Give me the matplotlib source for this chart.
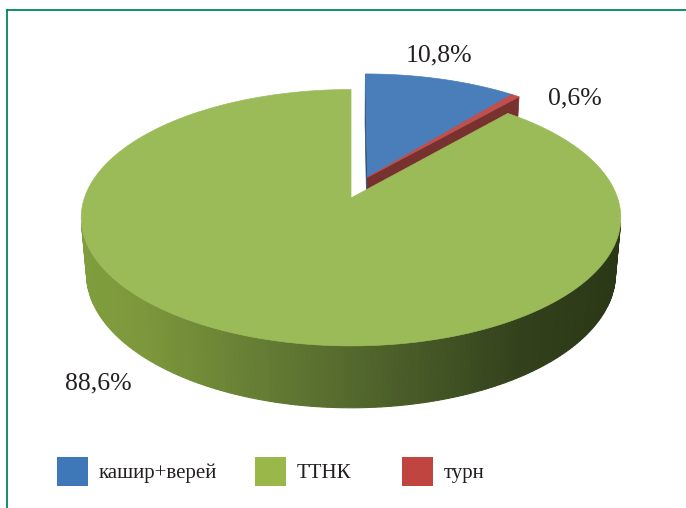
import numpy as np
import matplotlib.pyplot as plt
from matplotlib.patches import Polygon, Rectangle
from matplotlib.lines import Line2D

# данные
labels = ['кашир+верей', 'ТТНК', 'турн']
values = [10.8, 88.6, 0.6]
colors = ['#4a7ebb', '#9bbb59', '#c0504d']
# порядок секторов по часовой стрелке от 12 часов
pie_order = [0, 2, 1]
explode = [True, False, True]
value_labels = ['10,8%', '88,6%', '0,6%']

# параметры проекции (пиксели)
S = 1530.0
D = 5.74
ELEV = np.radians(28)
H = 0.24
CX, CY = 351, 198
EXPL = 0.181
sn, cs = np.sin(ELEV), np.cos(ELEV)
cam = np.array([0.0, -D * cs, D * sn])


def proj(u, v, z):
    den = D + v * cs - z * sn
    return CX + S * u / den, CY - S * (v * sn + z * cs) / den


def mix(c, k):
    c = np.array(plt.matplotlib.colors.to_rgb(c))
    return tuple(np.clip(c * k, 0, 1))


# градиент боковой стенки по экранной x
wall_x = [80, 140, 290, 423, 523, 625]
wall_rgb = np.array([[128, 158, 62], [125, 152, 60], [95, 118, 50],
                     [70, 88, 38], [50, 64, 27], [42, 55, 22]]) / 255.0

fig = plt.figure(figsize=(6.86, 5.08), dpi=100)
ax = fig.add_axes([0, 0, 1, 1])
ax.set_xlim(0, 686)
ax.set_ylim(508, 0)
ax.axis('off')

# углы секторов
total = sum(values)
slices = []
a = 0.0
for i in pie_order:
    span = values[i] / total * 2 * np.pi
    slices.append([i, a, a + span])
    a += span

# смещение вынесенных секторов в общем направлении
ex_spans = [s for s in slices if explode[s[0]]]
ex_mid = (ex_spans[0][1] + ex_spans[-1][2]) / 2
offsets = {}
for i, a0, a1 in slices:
    if explode[i]:
        offsets[i] = (EXPL * np.sin(ex_mid), EXPL * np.cos(ex_mid))
    else:
        offsets[i] = (0.0, 0.0)


def sort_key(s):
    i, a0, a1 = s
    m = (a0 + a1) / 2
    return -(0.5 * np.cos(m) + offsets[i][1])


for i, a0, a1 in sorted(slices, key=sort_key):
    du, dv = offsets[i]
    base = colors[i]
    # радиальные грани
    for ang, sgn in [(a0, -1), (a1, 1)]:
        n = np.array([sgn * np.cos(ang), -sgn * np.sin(ang), 0])
        mid = np.array([0.5 * np.sin(ang) + du, 0.5 * np.cos(ang) + dv, -H / 2])
        if np.dot(cam - mid, n) > 0:
            pts = [proj(du, dv, 0), proj(np.sin(ang) + du, np.cos(ang) + dv, 0),
                   proj(np.sin(ang) + du, np.cos(ang) + dv, -H), proj(du, dv, -H)]
            ax.add_patch(Polygon(pts, closed=True, fc=mix(base, 0.62),
                                 ec=mix(base, 0.62), lw=0.5))
    # внешняя стенка
    th = np.linspace(a0, a1, max(int((a1 - a0) / np.radians(1)), 2) + 1)
    for t0, t1 in zip(th[:-1], th[1:]):
        tm = (t0 + t1) / 2
        n = np.array([np.sin(tm), np.cos(tm), 0])
        p = np.array([np.sin(tm) + du, np.cos(tm) + dv, -H / 2])
        if np.dot(cam - p, n) <= 0:
            continue
        pts = [proj(np.sin(t0) + du, np.cos(t0) + dv, 0),
               proj(np.sin(t1) + du, np.cos(t1) + dv, 0),
               proj(np.sin(t1) + du, np.cos(t1) + dv, -H),
               proj(np.sin(t0) + du, np.cos(t0) + dv, -H)]
        xm = np.mean([q[0] for q in pts])
        if i == 1:
            col = tuple(np.interp(xm, wall_x, wall_rgb[:, k]) for k in range(3))
        else:
            col = mix(base, 0.55)
        ax.add_patch(Polygon(pts, closed=True, fc=col, ec=col, lw=0.8))
    # верхняя грань
    th = np.linspace(a0, a1, max(int((a1 - a0) / np.radians(0.5)), 2) + 1)
    pts = [proj(du, dv, 0)] + [proj(np.sin(t) + du, np.cos(t) + dv, 0) for t in th]
    ax.add_patch(Polygon(pts, closed=True, fc=base, ec=base, lw=0.5))

# подписи значений
txt_kw = dict(family='Liberation Serif', fontsize=18.5, color='#231f20',
              ha='center', va='baseline')
ax.text(439, 61, value_labels[0], **txt_kw)
ax.text(98, 389, value_labels[1], **txt_kw)
ax.text(575, 104, value_labels[2], **txt_kw)

# легенда
leg_x = [57, 255, 402]
leg_colors = ['#3f78b8', '#9ab84a', '#c0443f']
for x, lab, c in zip(leg_x, labels, leg_colors):
    ax.add_patch(Rectangle((x, 457), 31, 29, fc=c, ec='none'))
    ax.text(x + 42, 478, lab, family='Liberation Serif', fontsize=15,
            color='#231f20', ha='left', va='baseline')

# рамка
frame = '#00875a'
ax.add_line(Line2D([7, 7], [10, 508], color=frame, lw=1.3))
ax.add_line(Line2D([7, 686], [10, 10], color=frame, lw=1.3))

fig.savefig('out.png', dpi=100)
